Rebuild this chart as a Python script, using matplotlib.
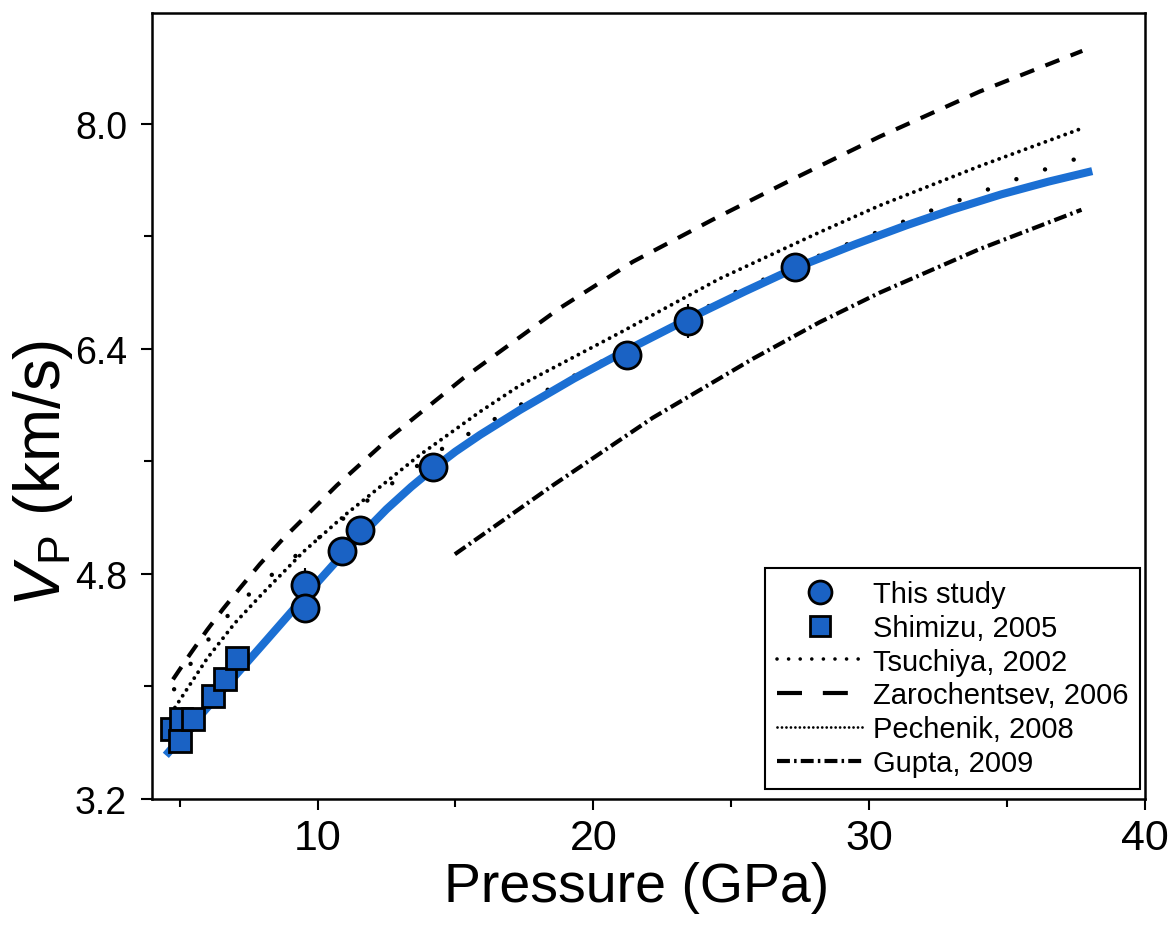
import matplotlib
matplotlib.use("Agg")
import matplotlib.pyplot as plt
from matplotlib.lines import Line2D
from matplotlib.ticker import MultipleLocator, FormatStrFormatter

plt.rcParams['font.family'] = ['Liberation Sans', 'DejaVu Sans']
plt.rcParams['mathtext.fontset'] = 'custom'
plt.rcParams['mathtext.rm'] = 'Liberation Sans'
plt.rcParams['mathtext.it'] = 'Liberation Sans:italic'

# This study (circles with error bars)
study_p = [9.54, 9.54, 10.88, 11.54, 14.18, 21.21, 23.42, 27.30]
study_v = [4.72, 4.56, 4.96, 5.11, 5.56, 6.36, 6.60, 6.98]
study_err = [0.12, 0.04, 0.04, 0.04, 0.05, 0.10, 0.12, 0.10]

# Shimizu, 2005 (squares)
shimizu_p = [4.72, 5.05, 5.01, 5.49, 6.21, 6.64, 7.08]
shimizu_v = [3.70, 3.77, 3.61, 3.77, 3.93, 4.05, 4.20]

# fit through this study
fit_p = [4.5, 6.0, 8.2, 9.54, 11.0, 12.5, 13.4, 14.2, 15.0, 15.9, 17.33, 19.3,
         21.2, 23.5, 25.5, 27.37, 29.5, 31.36, 33.0, 34.8, 36.5, 38.09]
fit_v = [3.51, 3.85, 4.34, 4.64, 4.96, 5.26, 5.42, 5.55, 5.67, 5.79, 5.965, 6.19,
         6.39, 6.62, 6.81, 6.98, 7.145, 7.28, 7.39, 7.50, 7.59, 7.665]

# Tsuchiya, 2002
tsu_p = [4.8, 5.56, 6.46, 7.19, 8.38, 9.47, 11.5, 14.43, 16.5, 18.53, 19.5,
         22.0, 25.3, 28.5, 32.19, 35.0, 37.62]
tsu_v = [3.98, 4.21, 4.44, 4.60, 4.80, 4.97, 5.28, 5.68, 5.91, 6.13, 6.23,
         6.48, 6.82, 7.09, 7.38, 7.585, 7.76]

# Zarochentsev, 2006
zaro_p = [4.76, 5.38, 5.99, 6.57, 7.19, 7.91, 8.75, 10.70, 12.62, 15.27,
          18.78, 21.43, 24.33, 27.0, 30.38, 34.0, 37.73]
zaro_v = [4.05, 4.23, 4.40, 4.55, 4.70, 4.87, 5.05, 5.43, 5.77, 6.19,
          6.69, 7.02, 7.32, 7.585, 7.91, 8.23, 8.52]

# Pechenik, 2008
pech_p = [4.83, 6.0, 7.0, 8.0, 9.5, 11.0, 13.7, 15.9, 17.33, 20.96, 24.58,
          28.2, 30.38, 34.0, 37.73]
pech_v = [3.85, 4.20, 4.45, 4.66, 4.96, 5.22, 5.645, 5.955, 6.14, 6.515, 6.90,
          7.23, 7.42, 7.70, 7.97]

# Gupta, 2009
gupta_p = [14.98, 18.53, 22.15, 25.78, 28.2, 30.38, 34.0, 37.7]
gupta_v = [4.94, 5.43, 5.91, 6.33, 6.59, 6.80, 7.11, 7.39]

blue_line = '#1b6fd3'
blue_face = '#1a62c4'

fig = plt.figure(figsize=(11.75, 9.28), dpi=100)
ax = fig.add_axes([0.1294, 0.138, 0.845, 0.847])

ax.plot(zaro_p, zaro_v, color='black', lw=3, linestyle=(0, (3.6, 2.9)), zorder=2)
ax.plot(pech_p, pech_v, color='black', lw=2.8, linestyle=(0, (0.01, 1.8)),
        dash_capstyle='round', zorder=2)
ax.plot(tsu_p, tsu_v, color='black', lw=3.2, linestyle=(0, (0.01, 6.8)),
        dash_capstyle='round', zorder=2)
ax.plot(gupta_p, gupta_v, color='black', lw=3, linestyle=(0, (3.1, 1.0, 0.6, 1.0)),
        zorder=2)
ax.plot(fit_p, fit_v, color=blue_line, lw=5.8, solid_capstyle='butt',
        solid_joinstyle='round', zorder=3)

ax.errorbar(study_p, study_v, yerr=study_err, fmt='none', ecolor='black',
            elinewidth=1.5, capsize=0, zorder=4)
ax.plot(study_p, study_v, 'o', ms=19.5, mfc=blue_face, mec='black', mew=2, zorder=5)
ax.plot(shimizu_p, shimizu_v, 's', ms=16.5, mfc=blue_face, mec='black', mew=2, zorder=5)

ax.set_xlim(4, 40)
ax.set_ylim(3.2, 8.79)
ax.xaxis.set_major_locator(MultipleLocator(10))
ax.xaxis.set_minor_locator(MultipleLocator(5))
ax.yaxis.set_major_locator(MultipleLocator(1.6))
ax.yaxis.set_minor_locator(MultipleLocator(0.8))
ax.yaxis.set_major_formatter(FormatStrFormatter('%.1f'))

for s in ax.spines.values():
    s.set_linewidth(1.8)
ax.tick_params(axis='both', which='major', length=8, width=1.5, direction='out')
ax.tick_params(axis='both', which='minor', length=6, width=1.5, direction='out')
ax.tick_params(axis='x', which='major', labelsize=31, pad=6)
ax.tick_params(axis='y', which='major', labelsize=27, pad=10)

ax.set_xlabel('Pressure (GPa)', fontsize=40)
ax.set_ylabel(r'$V_{\mathrm{P}}$ (km/s)', fontsize=46)
ax.xaxis.set_label_coords(0.488, -0.079)
ax.yaxis.set_label_coords(-0.078, 0.415)

handles = [
    Line2D([], [], marker='o', ls='none', ms=16.5, mfc=blue_face, mec='black', mew=2),
    Line2D([], [], marker='s', ls='none', ms=14, mfc=blue_face, mec='black', mew=2),
    Line2D([], [], color='black', lw=2.6, ls=(0, (0.01, 3.2)), dash_capstyle='round'),
    Line2D([], [], color='black', lw=3, ls=(0, (6, 5))),
    Line2D([], [], color='black', lw=2.0, ls=(0, (0.01, 1.6)), dash_capstyle='round'),
    Line2D([], [], color='black', lw=3, ls=(0, (3.1, 1.0, 0.6, 1.0))),
]
labels = ['This study', 'Shimizu, 2005', 'Tsuchiya, 2002', 'Zarochentsev, 2006',
          'Pechenik, 2008', 'Gupta, 2009']
leg = ax.legend(handles, labels, loc='lower right', bbox_to_anchor=(0.995, 0.013),
                fontsize=21, frameon=True, fancybox=False, framealpha=1,
                edgecolor='black', handlelength=3.0, handletextpad=0.3,
                borderpad=0.4, labelspacing=0.2, borderaxespad=0)
leg.get_frame().set_linewidth(1.5)

fig.savefig('out.png', dpi=100)
